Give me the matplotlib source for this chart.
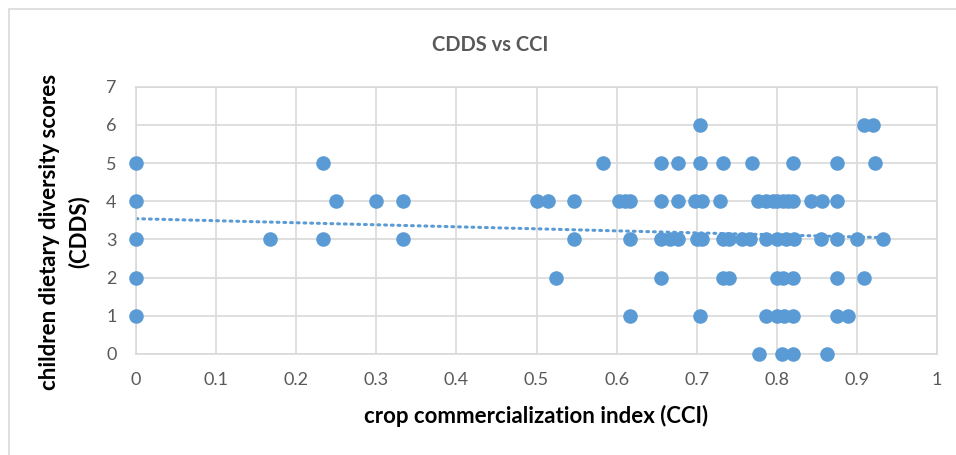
import numpy as np
import matplotlib
matplotlib.use("Agg")
import matplotlib.pyplot as plt
from matplotlib.patches import Rectangle

plt.rcParams['font.family'] = ['Lato', 'DejaVu Sans']

# CCI values of the points on each CDDS row
cci_0 = [0.778, 0.807, 0.820, 0.863]
cci_1 = [0.0, 0.617, 0.704, 0.787, 0.800, 0.809, 0.820, 0.875, 0.889]
cci_2 = [0.0, 0.524, 0.656, 0.733, 0.740, 0.800, 0.808, 0.820, 0.875, 0.909]
cci_3 = [0.0, 0.167, 0.233, 0.333, 0.547, 0.617, 0.656, 0.667, 0.677, 0.700,
         0.706, 0.733, 0.740, 0.756, 0.766, 0.786, 0.800, 0.812, 0.821, 0.855,
         0.875, 0.900, 0.933]
cci_4 = [0.0, 0.25, 0.30, 0.333, 0.50, 0.514, 0.547, 0.603, 0.610, 0.617,
         0.656, 0.677, 0.698, 0.706, 0.729, 0.777, 0.787, 0.795, 0.800, 0.808,
         0.814, 0.820, 0.843, 0.857, 0.875]
cci_5 = [0.0, 0.233, 0.583, 0.656, 0.677, 0.704, 0.733, 0.769, 0.820, 0.875, 0.923]
cci_6 = [0.704, 0.909, 0.920]

rows = [cci_0, cci_1, cci_2, cci_3, cci_4, cci_5, cci_6]
x = np.array([v for r in rows for v in r])
y = np.array([score for score, r in enumerate(rows) for _ in r], dtype=float)

title = "CDDS vs CCI"
xlabel = "crop commercialization index (CCI)"
ylabel = "children dietary diversity scores\n(CDDS)"
xticks = np.arange(0, 1.01, 0.1)
xticklabels = ["0", "0.1", "0.2", "0.3", "0.4", "0.5", "0.6", "0.7", "0.8", "0.9", "1"]

blue = "#5B9BD5"
grid = "#D9D9D9"

fig = plt.figure(figsize=(9.56, 4.55), dpi=100)
W, H = 956, 455
# chart border (runs off the right and bottom of the image)
fig.patches.append(Rectangle((8.5 / W, -0.1), 1.2, 1 - 8.5 / H + 0.1,
                             transform=fig.transFigure, fill=False,
                             edgecolor=grid, lw=1.2))

ax = fig.add_axes([136 / W, 1 - 354 / H, (937 - 136) / W, (354 - 86.7) / H])
ax.set_xlim(0, 1)
ax.set_ylim(0, 7)
ax.set_xticks(xticks)
ax.set_xticklabels(xticklabels)
ax.set_yticks(range(8))
ax.grid(True, color=grid, lw=1.2)
ax.set_axisbelow(True)
for s in ax.spines.values():
    s.set_color(grid)
    s.set_linewidth(1.2)
ax.tick_params(length=0, labelsize=13, colors="#595959")
ax.tick_params(axis="x", pad=13)
ax.tick_params(axis="y", pad=14)

ax.scatter(x, y, s=110, color=blue, zorder=3, clip_on=False, linewidths=0)

# linear trendline
k, b = np.polyfit(x, y, 1)
xt = np.array([x.min(), x.max()])
ax.plot(xt, k * xt + b, color=blue, lw=2.2, linestyle=(0, (0.6, 1.6)),
        dash_capstyle="round", zorder=2)

fig.text(490 / W, 1 - 45 / H, title, ha="center", va="center",
         fontsize=14.5, fontweight="bold", color="#595959")
fig.text(536 / W, 1 - 416 / H, xlabel, ha="center", va="center",
         fontsize=16, fontweight="bold", color="black")
fig.text(64 / W, 1 - 232 / H, ylabel, ha="center", va="center",
         rotation=90, fontsize=16, fontweight="bold", color="black",
         linespacing=1.45, multialignment="center")

fig.savefig("out.png", dpi=100)
